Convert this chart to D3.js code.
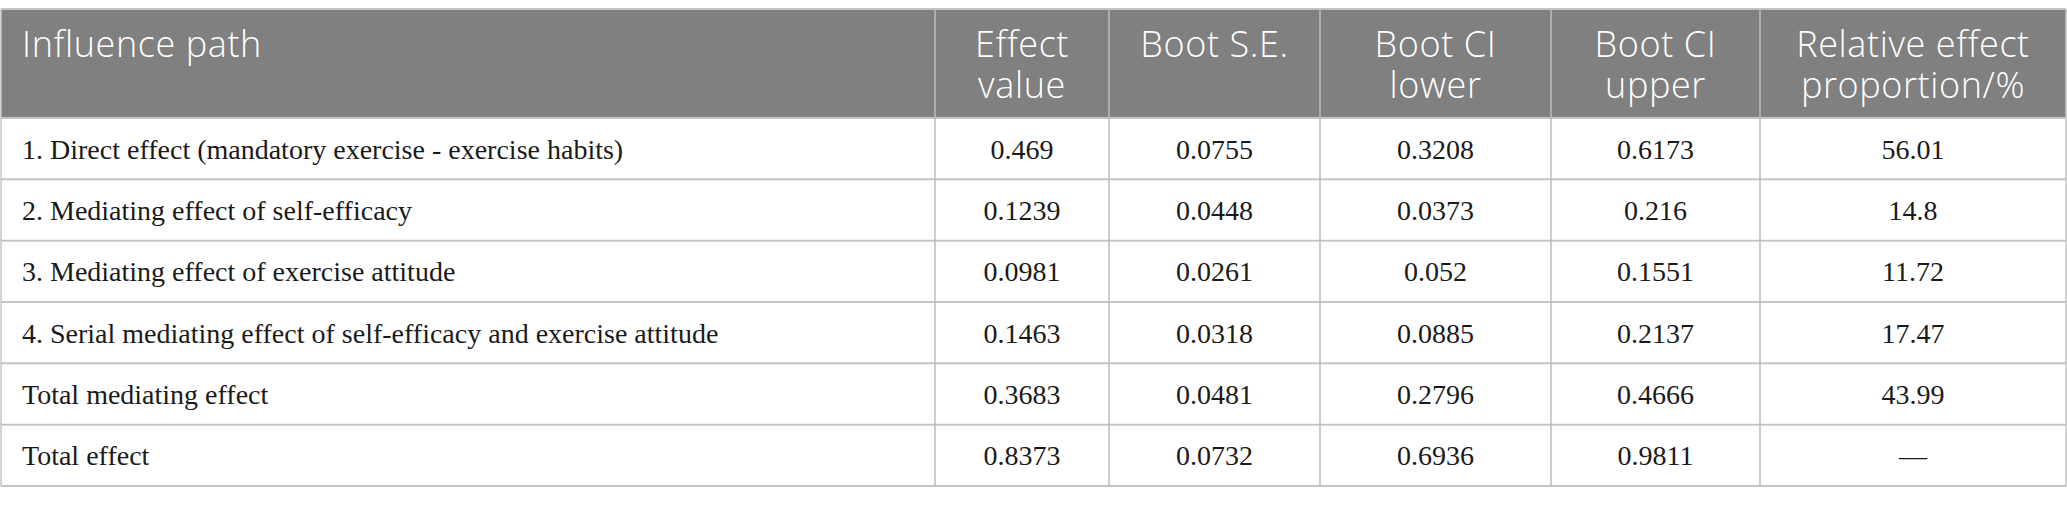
<!DOCTYPE html>
<html>
<head>
<meta charset="utf-8">
<script src="https://cdn.jsdelivr.net/npm/d3@7"></script>
<style>
  html, body { margin: 0; padding: 0; background: #fff; }
</style>
</head>
<body>
<div id="chart"></div>
<script>
// table content
var headers = [
	["Influence path"],
	["Effect", "value"],
	["Boot S.E."],
	["Boot CI", "lower"],
	["Boot CI", "upper"],
	["Relative effect", "proportion/%"]
];
var paths = [
	"1. Direct effect (mandatory exercise - exercise habits)",
	"2. Mediating effect of self-efficacy",
	"3. Mediating effect of exercise attitude",
	"4. Serial mediating effect of self-efficacy and exercise attitude",
	"Total mediating effect",
	"Total effect"
];
var effectValue = ["0.469", "0.1239", "0.0981", "0.1463", "0.3683", "0.8373"];
var bootSE = ["0.0755", "0.0448", "0.0261", "0.0318", "0.0481", "0.0732"];
var ciLower = ["0.3208", "0.0373", "0.052", "0.0885", "0.2796", "0.6936"];
var ciUpper = ["0.6173", "0.216", "0.1551", "0.2137", "0.4666", "0.9811"];
var relProportion = ["56.01", "14.8", "11.72", "17.47", "43.99", "\u2014"];

var dims = {
	width: 2067,
	height: 505,
	top: 9,
	headerBottom: 118,
	bottom: 486,
	cols: [1, 935, 1109, 1320, 1551, 1760, 2066]
};

var rows = paths.map(function(p, i) {
	return [p, effectValue[i], bootSE[i], ciLower[i], ciUpper[i], relProportion[i]];
});

var svg = d3.select("#chart")
	.append("svg")
	.attr("width", dims.width)
	.attr("height", dims.height);

var y = d3.scaleBand()
	.domain(d3.range(rows.length))
	.range([dims.headerBottom, dims.bottom]);

// header background
svg.append("rect")
	.attr("x", dims.cols[0])
	.attr("y", dims.top)
	.attr("width", dims.cols[6] - dims.cols[0])
	.attr("height", dims.headerBottom - dims.top)
	.attr("fill", "#808080");

// horizontal lines
var hLines = [dims.top, dims.headerBottom].concat(d3.range(rows.length).map(function(i) { return y(i) + y.bandwidth(); }));
svg.selectAll("line.h")
	.data(hLines)
	.enter()
	.append("line")
	.attr("class", "h")
	.attr("x1", dims.cols[0])
	.attr("x2", dims.cols[6])
	.attr("y1", function(d) { return d; })
	.attr("y2", function(d) { return d; })
	.attr("stroke", "#c4c4c4")
	.attr("stroke-width", 2);

// vertical lines
svg.selectAll("line.v")
	.data(dims.cols)
	.enter()
	.append("line")
	.attr("class", "v")
	.attr("x1", function(d) { return d; })
	.attr("x2", function(d) { return d; })
	.attr("y1", dims.top)
	.attr("y2", dims.bottom)
	.attr("stroke", function(d, i) { return (i === 0 || i === 6) ? "#c4c4c4" : "#bdbdbd"; })
	.attr("stroke-width", 1.5);

// header text
var colCenter = function(i) { return (dims.cols[i] + dims.cols[i + 1]) / 2; };

var head = svg.selectAll("text.head")
	.data(headers)
	.enter()
	.append("text")
	.attr("class", "head")
	.attr("x", function(d, i) { return i === 0 ? 22 : colCenter(i); })
	.attr("y", 57)
	.attr("text-anchor", function(d, i) { return i === 0 ? "start" : "middle"; })
	.attr("fill", "#ffffff")
	.attr("font-family", "'Open Sans', sans-serif")
	.attr("font-weight", 300)
	.attr("font-size", "36px")
	.attr("letter-spacing", "0.6px");

head.each(function(d, i) {
	var t = d3.select(this);
	d.forEach(function(line, j) {
		t.append("tspan")
			.attr("x", i === 0 ? 22 : colCenter(i))
			.attr("dy", j === 0 ? 0 : 41)
			.text(line);
	});
});

// body text
var rowG = svg.selectAll("g.row")
	.data(rows)
	.enter()
	.append("g")
	.attr("class", "row")
	.attr("transform", function(d, i) { return "translate(0," + (y(i) + y.bandwidth() / 2) + ")"; });

rowG.selectAll("text")
	.data(function(d) { return d; })
	.enter()
	.append("text")
	.attr("x", function(d, i) { return i === 0 ? 22 : colCenter(i); })
	.attr("y", 0)
	.attr("dy", "0.36em")
	.attr("text-anchor", function(d, i) { return i === 0 ? "start" : "middle"; })
	.attr("fill", "#1a1a1a")
	.attr("font-family", "'Liberation Serif', serif")
	.attr("font-size", "28px")
	.text(function(d) { return d; });
</script>
</body>
</html>
